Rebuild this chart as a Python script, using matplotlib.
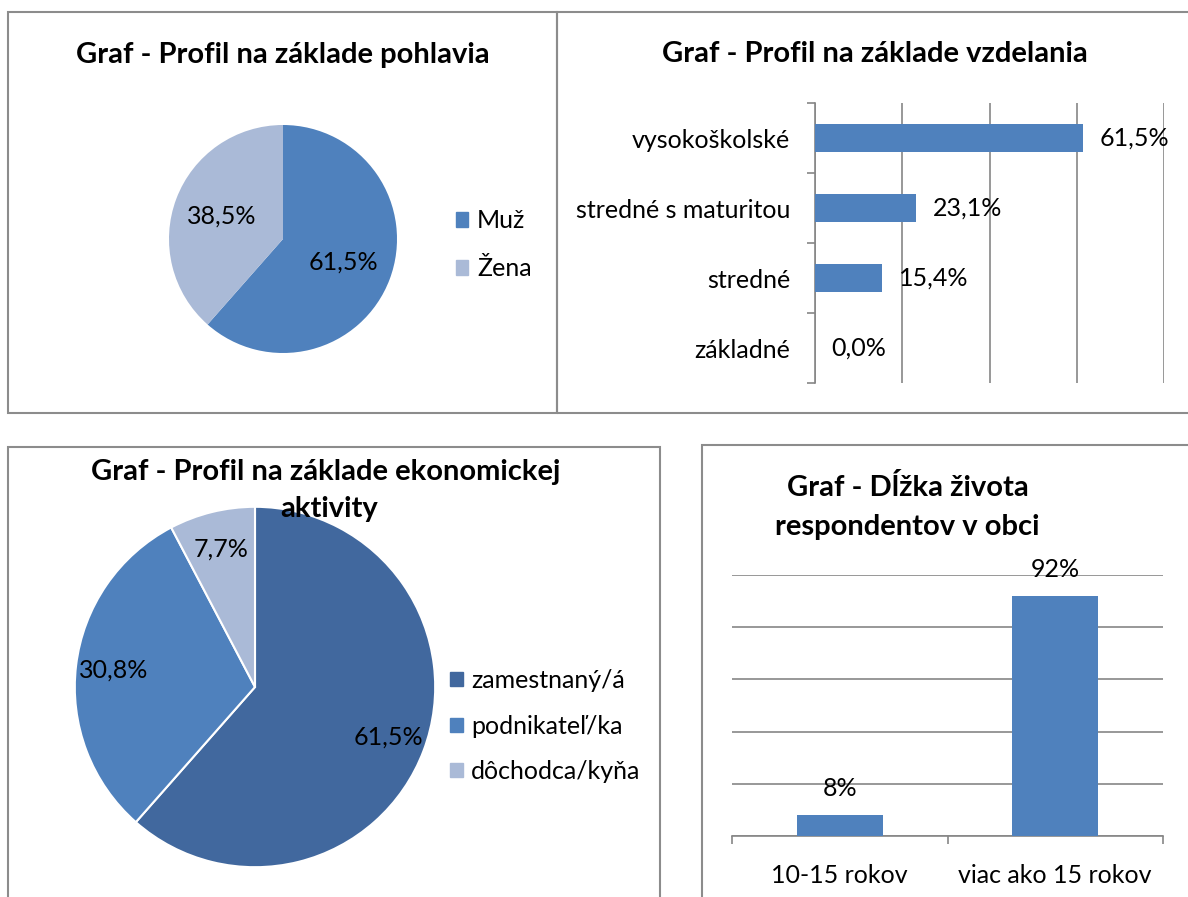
import matplotlib
matplotlib.use("Agg")
import matplotlib.pyplot as plt
from matplotlib.patches import Rectangle, Patch
from matplotlib.ticker import FixedLocator

# --- data ---
gender_labels = ["Muž", "Žena"]
gender_values = [61.5, 38.5]

edu_labels = ["vysokoškolské", "stredné s maturitou", "stredné", "základné"]
edu_values = [61.5, 23.1, 15.4, 0.0]

econ_labels = ["zamestnaný/á", "podnikateľ/ka", "dôchodca/kyňa"]
econ_values = [61.5, 30.8, 7.7]

life_labels = ["10-15 rokov", "viac ako 15 rokov"]
life_values = [8, 92]

W, H = 1188, 897
plt.rcParams["font.family"] = ["Lato", "DejaVu Sans"]
plt.rcParams["text.color"] = "black"

BLUE = "#4F81BD"
LIGHT = "#AABAD7"
DARK = "#41689E"
GRID = "#868686"
BORDER = "#8C8C8C"
FS = 18      # label size
TFS = 21     # title size


def box(x0, y0, x1, y1):
    # pixel box (top-left origin) -> figure fraction rect
    return [x0 / W, 1 - y1 / H, (x1 - x0) / W, (y1 - y0) / H]


def pct(v):
    return f"{v:.1f}%".replace(".", ",")


fig = plt.figure(figsize=(W / 100, H / 100), dpi=100)
fig.patch.set_facecolor("white")

# panel frames
for (x0, y0, x1, y1) in [(8, 12, 557, 413), (557, 12, 1200, 413),
                         (8, 447, 660, 910), (702, 445, 1200, 910)]:
    fig.patches.append(Rectangle((x0 / W, 1 - y1 / H), (x1 - x0) / W, (y1 - y0) / H,
                                 transform=fig.transFigure, fill=False,
                                 edgecolor=BORDER, linewidth=1.5))

# ---- top left: pie by gender ----
ax1 = fig.add_axes(box(283 - 114, 239 - 114, 283 + 114, 239 + 114))
ax1.pie(gender_values, colors=[BLUE, LIGHT], startangle=90,
        counterclock=False, autopct=lambda p: pct(p),
        pctdistance=0.57, radius=1, textprops={"fontsize": FS})
ax1.set_xlim(-1, 1)
ax1.set_ylim(-1, 1)
ax1.set_aspect("equal")
fig.text(283 / W, 1 - 55 / H, "Graf - Profil na základe pohlavia", ha="center",
         va="center", fontsize=TFS, fontweight="bold")
fig.legend([Patch(color=c) for c in [BLUE, LIGHT]], gender_labels,
           loc="center left", bbox_to_anchor=(456 / W, 1 - 245 / H), frameon=False,
           borderpad=0, borderaxespad=0, fontsize=FS, handlelength=0.5,
           handleheight=0.5, handletextpad=0.35, labelspacing=1.0)

# ---- top right: education bars ----
ax2 = fig.add_axes(box(815, 103, 1164, 383))
ypos = list(range(len(edu_labels)))
ax2.barh(ypos, edu_values, height=0.4, color=BLUE, zorder=3)
ax2.set_xlim(0, 80)
ax2.set_ylim(len(edu_labels) - 0.5, -0.5)
ax2.set_xticks([0, 20, 40, 60, 80])
ax2.xaxis.grid(True, color=GRID, linewidth=1.2)
ax2.tick_params(axis="x", length=0, labelbottom=False)
ax2.set_yticks(ypos)
ax2.set_yticklabels(edu_labels, fontsize=FS)
ax2.tick_params(axis="y", which="major", length=0, pad=18)
ax2.yaxis.set_minor_locator(FixedLocator([i - 0.5 for i in range(len(edu_labels) + 1)]))
ax2.tick_params(axis="y", which="minor", length=6, color=GRID, width=1.2)
for s in ["top", "right", "bottom"]:
    ax2.spines[s].set_visible(False)
ax2.spines["left"].set_color(GRID)
ax2.spines["left"].set_linewidth(1.2)
for y, v in zip(ypos, edu_values):
    ax2.annotate(pct(v), (v, y), xytext=(12, 0), textcoords="offset points",
                 ha="left", va="center", fontsize=FS)
fig.text(875 / W, 1 - 54 / H, "Graf - Profil na základe vzdelania", ha="center",
         va="center", fontsize=TFS, fontweight="bold")

# ---- bottom left: pie by economic activity ----
ax3 = fig.add_axes(box(255 - 182, 687 - 182, 255 + 182, 687 + 182))
ax3.pie(econ_values, colors=[DARK, BLUE, LIGHT], startangle=90, counterclock=False,
        autopct=lambda p: pct(p), pctdistance=0.79,
        wedgeprops={"edgecolor": "white", "linewidth": 1.5},
        textprops={"fontsize": FS})
ax3.set_xlim(-1.01, 1.01)
ax3.set_ylim(-1.01, 1.01)
ax3.set_aspect("equal")
fig.text(326 / W, 1 - 472 / H, "Graf - Profil na základe ekonomickej", ha="center",
         va="center", fontsize=TFS, fontweight="bold", zorder=5)
fig.text(329 / W, 1 - 509 / H, "aktivity", ha="center", va="center",
         fontsize=TFS, fontweight="bold", zorder=5)
fig.legend([Patch(color=c) for c in [DARK, BLUE, LIGHT]], econ_labels,
           loc="center left", bbox_to_anchor=(450 / W, 1 - 726 / H), frameon=False,
           borderpad=0, borderaxespad=0, fontsize=FS, handlelength=0.5,
           handleheight=0.5, handletextpad=0.35, labelspacing=0.9)

# ---- bottom right: length of life in village ----
ax4 = fig.add_axes(box(732, 575, 1163, 836))
xpos = list(range(len(life_labels)))
ax4.bar(xpos, life_values, width=0.4, color=BLUE, zorder=3)
ax4.set_xlim(-0.5, len(life_labels) - 0.5)
ax4.set_ylim(0, 100)
ax4.set_yticks([0, 20, 40, 60, 80, 100])
ax4.yaxis.grid(True, color=GRID, linewidth=1.2)
ax4.tick_params(axis="y", length=0, labelleft=False)
ax4.set_xticks(xpos)
ax4.set_xticklabels(life_labels, fontsize=FS)
ax4.tick_params(axis="x", which="major", length=0, pad=20)
ax4.xaxis.set_minor_locator(FixedLocator([i - 0.5 for i in range(len(life_labels) + 1)]))
ax4.tick_params(axis="x", which="minor", length=6, color=GRID, width=1.2)
for s in ["top", "right", "left"]:
    ax4.spines[s].set_visible(False)
ax4.spines["bottom"].set_color(GRID)
ax4.spines["bottom"].set_linewidth(1.2)
for x, v in zip(xpos, life_values):
    ax4.annotate(f"{v}%", (x, v), xytext=(0, 19), textcoords="offset points",
                 ha="center", va="center", fontsize=FS)
fig.text(908 / W, 1 - 487 / H, "Graf - Dĺžka života", ha="center", va="center",
         fontsize=TFS, fontweight="bold")
fig.text(907 / W, 1 - 527 / H, "respondentov v obci", ha="center", va="center",
         fontsize=TFS, fontweight="bold")

fig.savefig("out.png", dpi=100, facecolor="white")
